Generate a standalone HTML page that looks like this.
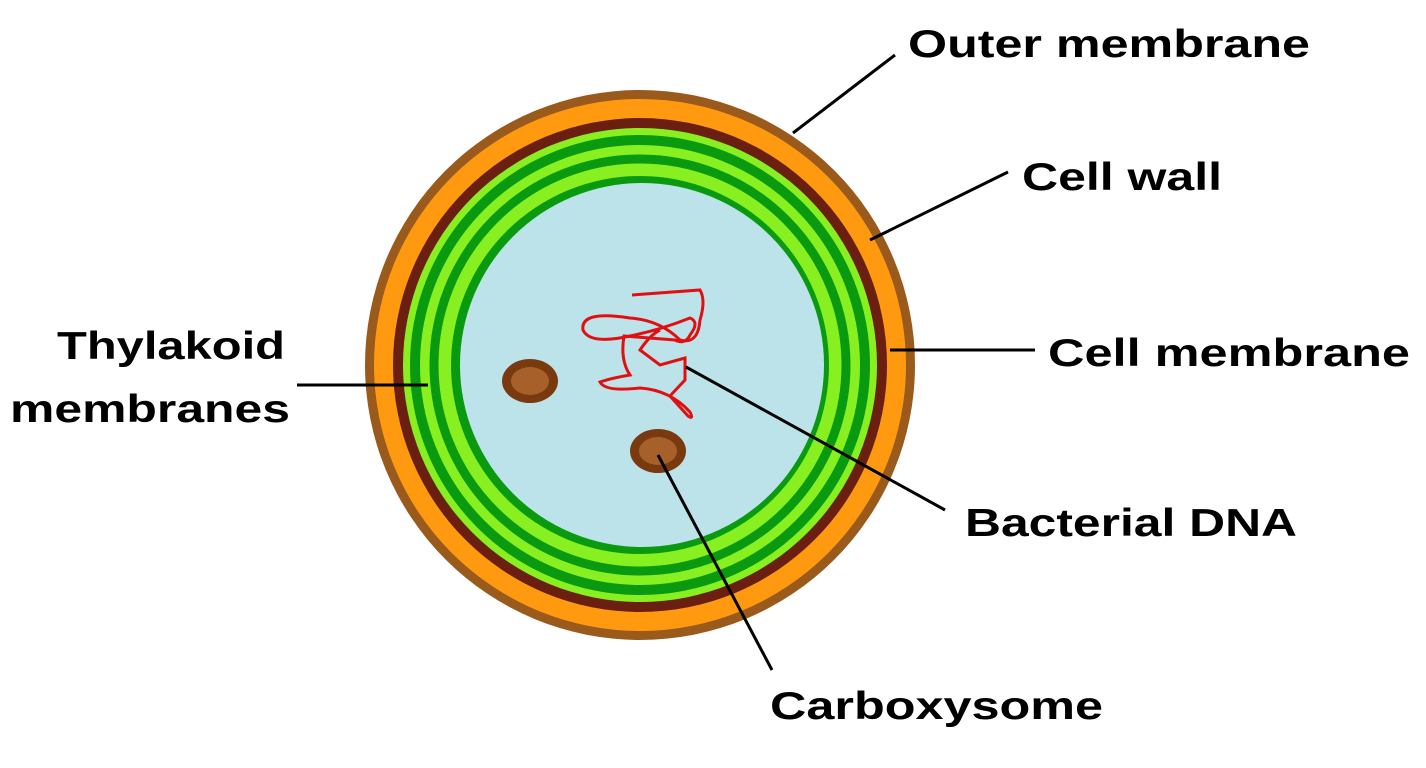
<!DOCTYPE html>
<html><head><meta charset="utf-8"><style>
html,body{margin:0;padding:0;background:#fff;}
svg{display:block;}
text{font-family:"Liberation Sans",Arial,sans-serif;font-weight:bold;font-size:39px;fill:#000;}
</style></head><body>
<svg width="1426" height="768" viewBox="0 0 1426 768" xmlns="http://www.w3.org/2000/svg">
<rect width="1426" height="768" fill="#fff"/>
<circle cx="640" cy="365" r="275" fill="#9a5a1c"/>
<circle cx="640" cy="365" r="266" fill="#ff9a10"/>
<circle cx="640" cy="365" r="247" fill="#6b1f10"/>
<circle cx="640" cy="365" r="237" fill="#88f020"/>
<circle cx="640" cy="365" r="225" fill="none" stroke="#0a9a10" stroke-width="10"/>
<circle cx="640" cy="365" r="206" fill="none" stroke="#0a9a10" stroke-width="9"/>
<circle cx="640" cy="365" r="189" fill="#0a9a10"/>
<circle cx="642" cy="365" r="182" fill="#bde3ea"/>
<ellipse cx="530" cy="381" rx="28" ry="22" fill="#7a3a10"/>
<ellipse cx="530" cy="381" rx="19" ry="14" fill="#a8602a"/>
<ellipse cx="658" cy="451" rx="28" ry="22" fill="#7a3a10"/>
<ellipse cx="658" cy="451" rx="19" ry="14" fill="#a8602a"/>
<path d="M632,295 L700,290 Q706,300 700,320 Q698,345 680,340 Q660,320 630,318 Q580,310 583,330 Q590,345 630,336 Q660,330 690,318 Q700,322 690,335 Q685,345 675,340 L624,336 Q620,360 630,375 Q612,378 600,382 Q605,392 640,388 Q670,390 690,412 Q694,420 688,416 L670,396 L685,380 L685,358 L660,365 L640,350 Q650,335 660,330" fill="none" stroke="#e01010" stroke-width="3"/>
<g stroke="#000" stroke-width="3">
<line x1="793" y1="133" x2="895" y2="55"/>
<line x1="870" y1="240" x2="1008" y2="172"/>
<line x1="890" y1="350" x2="1035" y2="350"/>
<line x1="297" y1="385" x2="428" y2="385"/>
<line x1="686" y1="367" x2="945" y2="510"/>
<line x1="658" y1="455" x2="772" y2="670"/>
</g>
<text x="908" y="57" textLength="402" lengthAdjust="spacingAndGlyphs">Outer membrane</text>
<text x="1022" y="190" textLength="200" lengthAdjust="spacingAndGlyphs">Cell wall</text>
<text x="1048" y="366" textLength="362" lengthAdjust="spacingAndGlyphs">Cell membrane</text>
<text x="57" y="359" textLength="228" lengthAdjust="spacingAndGlyphs">Thylakoid</text>
<text x="10" y="422" textLength="280" lengthAdjust="spacingAndGlyphs">membranes</text>
<text x="965" y="536" textLength="332" lengthAdjust="spacingAndGlyphs">Bacterial DNA</text>
<text x="770" y="719" textLength="333" lengthAdjust="spacingAndGlyphs">Carboxysome</text>
</svg>
</body></html>
